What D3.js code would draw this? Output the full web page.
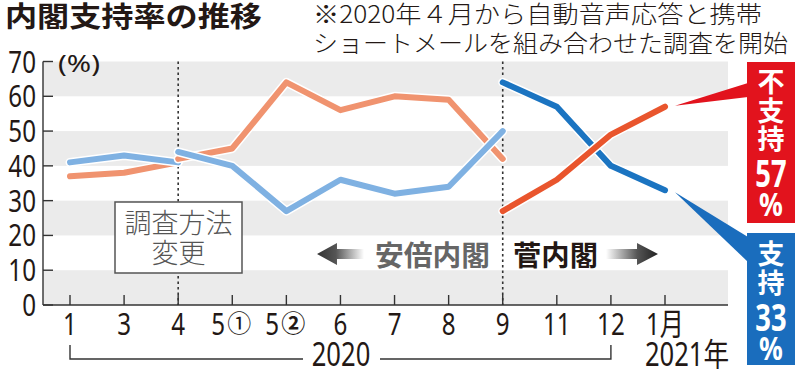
<!DOCTYPE html>
<html>
<head>
<meta charset="utf-8">
<script src="https://cdn.jsdelivr.net/npm/d3@7"></script>
<style>
  body { margin: 0; background: #fff; }
  svg { display: block; }
</style>
</head>
<body>
<div class="chart"></div>
<script>
var width = 800, height = 369;

// months on the x axis (2020/1 .. 2021/1)
var months = ["1", "3", "4", "5①", "5②", "6", "7", "8", "9", "11", "12", "1月"];
var yTicks = [0, 10, 20, 30, 40, 50, 60, 70];

// old survey method (Abe cabinet, 1..4)
var oldMonths = ["1", "3", "4"];
var oldSupport = [41, 43, 41];
var oldDisapprove = [37, 38, 41];

// new method, Abe cabinet (4..9)
var abeMonths = ["4", "5①", "5②", "6", "7", "8", "9"];
var abeSupport = [44, 40, 27, 36, 32, 34, 50];
var abeDisapprove = [42, 45, 64, 56, 60, 59, 42];

// Suga cabinet (9..1月)
var sugaMonths = ["9", "11", "12", "1月"];
var sugaSupport = [64, 57, 40, 33];
var sugaDisapprove = [27, 36, 49, 57];

var FONT = "'Noto Sans CJK JP', 'Noto Sans', sans-serif";
var NUM = "'Noto Sans', 'Noto Sans CJK JP', sans-serif";

var svg = d3.select(".chart").append("svg")
  .attr("width", width)
  .attr("height", height);

var x = d3.scalePoint().domain(months).range([70, 665]);
var y = d3.scaleLinear().domain([0, 70]).range([305, 61.5]);
var left = 43, right = 728;

// condensed text helper (reference uses a narrow face)
function cond(g, str, tx, ty, size, sx, anchor, weight, color) {
  return g.append("text")
    .attr("transform", "translate(" + tx + "," + ty + ") scale(" + sx + ",1)")
    .attr("text-anchor", anchor)
    .style("font-family", NUM)
    .style("font-size", size + "px")
    .style("font-weight", weight)
    .attr("fill", color)
    .text(str);
}

// gray bands
var bands = [[60, 70], [40, 50], [20, 30], [0, 10]];
svg.append("g").selectAll("rect").data(bands).enter().append("rect")
  .attr("x", left)
  .attr("width", right - left)
  .attr("y", function(d) { return y(d[1]); })
  .attr("height", function(d) { return y(d[0]) - y(d[1]); })
  .attr("fill", "#ebebeb");

// dotted separators at 4 and 9
svg.append("g").selectAll("line").data(["4", "9"]).enter().append("line")
  .attr("x1", function(d) { return x(d); })
  .attr("x2", function(d) { return x(d); })
  .attr("y1", y(70))
  .attr("y2", y(0))
  .attr("stroke", "#333")
  .attr("stroke-width", 1.6)
  .attr("stroke-dasharray", "2.5,3");

// axes
var axis = svg.append("g").attr("stroke", "#333").attr("stroke-width", 1.4);
axis.append("line").attr("x1", left).attr("x2", left).attr("y1", y(70)).attr("y2", y(0));
axis.append("line").attr("x1", left).attr("x2", right).attr("y1", y(0)).attr("y2", y(0));
axis.selectAll(".yt").data(yTicks).enter().append("line")
  .attr("x1", left).attr("x2", left + 10)
  .attr("y1", function(d) { return y(d); })
  .attr("y2", function(d) { return y(d); });
axis.selectAll(".xt").data(months).enter().append("line")
  .attr("x1", function(d) { return x(d); })
  .attr("x2", function(d) { return x(d); })
  .attr("y1", y(0) - 10).attr("y2", y(0));

yTicks.forEach(function(v) {
  cond(svg, String(v), 36, y(v) + 11, 31, 0.78, "end", 400, "#231815");
});
svg.append("text")
  .attr("x", 58).attr("y", 72)
  .attr("textLength", 42).attr("lengthAdjust", "spacingAndGlyphs")
  .style("font-family", NUM).style("font-size", "23px")
  .attr("fill", "#231815")
  .text("(%)");

// x labels (circled numbers drawn separately so they stay round)
months.forEach(function(m) {
  var cx = x(m);
  var circ = m.match(/[①②]/);
  if (circ) {
    var base = m.replace(circ[0], "");
    cond(svg, base, cx - 21, 335, 31, 0.78, "start", 400, "#231815");
    svg.append("text")
      .attr("x", cx - 5).attr("y", 332)
      .style("font-family", FONT).style("font-size", "24px")
      .style("font-weight", circ[0] == "②" ? 700 : 400)
      .attr("fill", "#231815")
      .text(circ[0]);
  } else {
    cond(svg, m, cx, 335, 31, 0.78, "middle", 400, "#231815");
  }
});

// year bracket
var br = svg.append("g").attr("stroke", "#333").attr("stroke-width", 1.4).attr("fill", "none");
br.append("path").attr("d", "M" + x("1") + ",345V359H303");
br.append("path").attr("d", "M380,359H" + x("12") + "V345");
cond(svg, "2020", 341, 366, 32, 0.8, "middle", 400, "#231815");
cond(svg, "2021年", 687, 366, 32, 0.8, "middle", 400, "#231815");

// annotation box 調査方法変更
svg.append("rect")
  .attr("x", 115).attr("y", 202).attr("width", 127).attr("height", 71)
  .attr("fill", "#fff").attr("stroke", "#555").attr("stroke-width", 1.5);
["調査方法", "変更"].forEach(function(t, i) {
  svg.append("text")
    .attr("x", 178.5).attr("y", 233 + i * 30)
    .attr("text-anchor", "middle")
    .style("font-family", FONT).style("font-size", "27px").style("font-weight", 300)
    .attr("fill", "#555")
    .text(t);
});

// cabinet arrows
var defs = svg.append("defs");
var gl = defs.append("linearGradient").attr("id", "gl").attr("x1", 0).attr("x2", 1);
gl.append("stop").attr("offset", "0%").attr("stop-color", "#333");
gl.append("stop").attr("offset", "40%").attr("stop-color", "#555");
gl.append("stop").attr("offset", "100%").attr("stop-color", "#fff");
var gr = defs.append("linearGradient").attr("id", "gr").attr("x1", 0).attr("x2", 1);
gr.append("stop").attr("offset", "0%").attr("stop-color", "#fff");
gr.append("stop").attr("offset", "60%").attr("stop-color", "#555");
gr.append("stop").attr("offset", "100%").attr("stop-color", "#222");
var ay = 254;
svg.append("path")
  .attr("d", "M317," + ay + "L337," + (ay - 11) + "V" + (ay - 5) + "H364V" + (ay + 5) + "H337V" + (ay + 11) + "Z")
  .attr("fill", "url(#gl)");
svg.append("path")
  .attr("d", "M658," + ay + "L637," + (ay - 11) + "V" + (ay - 5) + "H606V" + (ay + 5) + "H637V" + (ay + 11) + "Z")
  .attr("fill", "url(#gr)");
svg.append("text")
  .attr("x", 375).attr("y", 266)
  .attr("textLength", 115).attr("lengthAdjust", "spacingAndGlyphs")
  .style("font-family", FONT).style("font-size", "28px").style("font-weight", 700)
  .attr("fill", "#666")
  .text("安倍内閣");
svg.append("text")
  .attr("x", 513).attr("y", 266)
  .attr("textLength", 85).attr("lengthAdjust", "spacingAndGlyphs")
  .style("font-family", FONT).style("font-size", "28px").style("font-weight", 700)
  .attr("fill", "#231815")
  .text("菅内閣");

// lines
var line = d3.line()
  .x(function(d) { return x(d[0]); })
  .y(function(d) { return y(d[1]); });

function series(ms, vals, color) {
  var pts = ms.map(function(m, i) { return [m, vals[i]]; });
  svg.append("path")
    .attr("d", line(pts))
    .attr("fill", "none").attr("stroke", "#fff")
    .attr("stroke-width", 9).attr("stroke-linecap", "round").attr("stroke-linejoin", "round");
  svg.append("path")
    .attr("d", line(pts))
    .attr("fill", "none").attr("stroke", color)
    .attr("stroke-width", 6).attr("stroke-linecap", "round").attr("stroke-linejoin", "round");
}

var lightOrange = "#f0936f", lightBlue = "#7fb1e2";
var darkOrange = "#e9552d", darkBlue = "#1b74c1";
series(oldMonths, oldDisapprove, lightOrange);
series(oldMonths, oldSupport, lightBlue);
series(abeMonths, abeDisapprove, lightOrange);
series(abeMonths, abeSupport, lightBlue);
series(sugaMonths, sugaSupport, darkBlue);
series(sugaMonths, sugaDisapprove, darkOrange);

// callout labels on the right
var lastM = months[months.length - 1];
var tipX = x(lastM) + 10;
var red = "#e2131d", blue = "#1a6dbd";
svg.append("path")
  .attr("d", "M" + tipX + "," + (y(sugaDisapprove[3]) - 1) + "L748,83L748,97Z")
  .attr("fill", red);
svg.append("path")
  .attr("d", "M" + tipX + "," + (y(sugaSupport[3]) + 2) + "L748,237L748,262Z")
  .attr("fill", blue);
svg.append("rect").attr("x", 747).attr("y", 62).attr("width", 48).attr("height", 161).attr("fill", red);
svg.append("rect").attr("x", 747).attr("y", 233).attr("width", 48).attr("height", 132).attr("fill", blue);

// chars stacked vertically, then number and %
function boxLabel(chars, num, firstBase) {
  chars.forEach(function(c, i) {
    svg.append("text")
      .attr("x", 771).attr("y", firstBase + i * 28.5)
      .attr("text-anchor", "middle")
      .style("font-family", FONT).style("font-size", "27px").style("font-weight", 700)
      .attr("fill", "#fff")
      .text(c);
  });
  var ny = firstBase + (chars.length - 1) * 28.5 + 38;
  cond(svg, num, 771, ny, 38, 0.72, "middle", 700, "#fff");
  cond(svg, "%", 771, ny + 29, 33, 0.8, "middle", 700, "#fff");
}
boxLabel(["不", "支", "持"], String(sugaDisapprove[3]), 92);
boxLabel(["支", "持"], String(sugaSupport[3]), 264);

// title and note
svg.append("text")
  .attr("x", 5).attr("y", 27)
  .attr("textLength", 257).attr("lengthAdjust", "spacingAndGlyphs")
  .style("font-family", FONT).style("font-size", "28px").style("font-weight", 700)
  .attr("fill", "#231815")
  .text("内閣支持率の推移");
svg.append("text")
  .attr("x", 313).attr("y", 23)
  .attr("textLength", 449).attr("lengthAdjust", "spacingAndGlyphs")
  .style("font-family", FONT).style("font-size", "24px").style("font-weight", 300)
  .attr("fill", "#231815")
  .text("※2020年４月から自動音声応答と携帯");
svg.append("text")
  .attr("x", 313).attr("y", 52)
  .attr("textLength", 475).attr("lengthAdjust", "spacingAndGlyphs")
  .style("font-family", FONT).style("font-size", "24px").style("font-weight", 300)
  .attr("fill", "#231815")
  .text("ショートメールを組み合わせた調査を開始");
</script>
</body>
</html>
